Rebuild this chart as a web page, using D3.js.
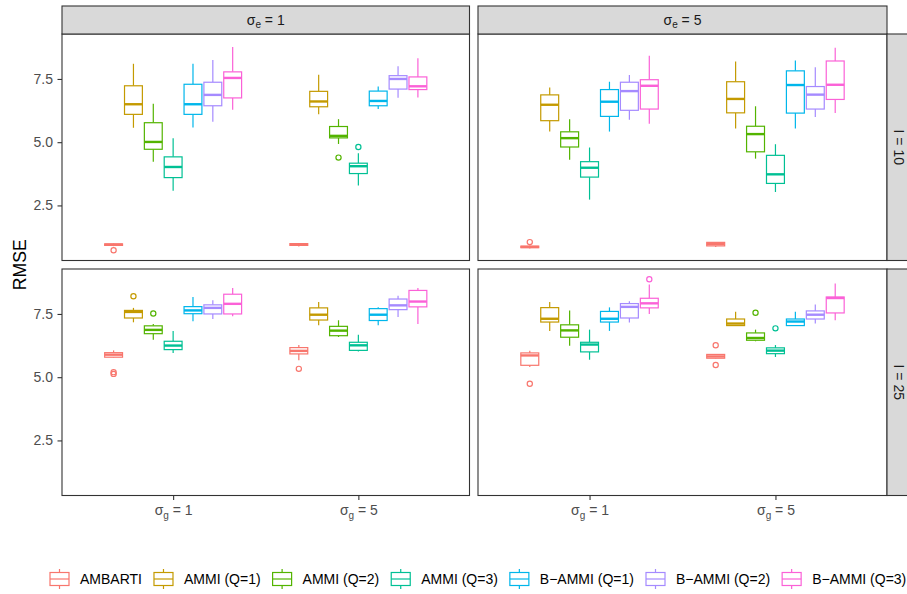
<!DOCTYPE html>
<html>
<head>
<meta charset="UTF-8" />
<style>
  body, html { margin: 0; padding: 0; background: #fff; overflow: hidden; }
  svg { display: block; font-family: "Liberation Sans", Arial, sans-serif; }
</style>
</head>
<body>
<svg id="chart"></svg>
<script src="https://cdn.jsdelivr.net/npm/d3@7"></script>
<script>
const methods = ["AMBARTI", "AMMI (Q=1)", "AMMI (Q=2)", "AMMI (Q=3)", "B\u2212AMMI (Q=1)", "B\u2212AMMI (Q=2)", "B\u2212AMMI (Q=3)"];
const methodColors = ["#F8766D", "#C49A00", "#53B400", "#00C094", "#00B6EB", "#A58AFF", "#FB61D7"];
const sigmaG = ["1", "5"];
const sigmaE = ["1", "5"];
const sizeI = ["10", "25"];
const yTicks = [2.5, 5.0, 7.5];

// rows: [lower whisker, q1, median, q3, upper whisker, outliers]
// first 7 rows σg = 1, next 7 rows σg = 5, methods in legend order
const statsE1I10 = [
  [0.89, 0.92, 0.95, 0.98, 1.00, [0.73]],
  [5.57, 6.10, 6.50, 7.23, 8.10, []],
  [4.23, 4.72, 5.01, 5.77, 6.52, []],
  [3.08, 3.60, 4.02, 4.42, 5.16, []],
  [5.58, 6.10, 6.50, 7.29, 8.10, []],
  [5.81, 6.44, 6.87, 7.37, 8.25, []],
  [6.28, 6.75, 7.54, 7.78, 8.76, []],
  [0.88, 0.92, 0.96, 0.99, 1.01, []],
  [6.10, 6.40, 6.61, 7.01, 7.67, []],
  [4.93, 5.17, 5.25, 5.62, 5.91, [4.39]],
  [3.29, 3.76, 4.05, 4.17, 4.56, [4.81]],
  [6.31, 6.44, 6.63, 7.02, 7.20, []],
  [6.76, 7.10, 7.50, 7.63, 8.00, []],
  [6.77, 7.08, 7.21, 7.58, 8.32, []]
];
const statsE5I10 = [
  [0.80, 0.83, 0.86, 0.89, 0.92, [1.05]],
  [5.42, 5.85, 6.48, 6.87, 7.16, []],
  [4.31, 4.81, 5.16, 5.41, 5.91, []],
  [2.73, 3.62, 3.99, 4.23, 4.79, []],
  [5.42, 6.02, 6.60, 7.08, 7.39, []],
  [5.89, 6.26, 7.02, 7.37, 7.66, []],
  [5.73, 6.31, 7.23, 7.47, 8.42, []],
  [0.86, 0.90, 0.97, 1.04, 1.05, []],
  [5.54, 6.16, 6.71, 7.39, 8.19, []],
  [4.35, 4.62, 5.32, 5.63, 6.42, []],
  [3.03, 3.37, 3.73, 4.48, 4.92, []],
  [5.54, 6.15, 7.26, 7.82, 8.23, []],
  [6.00, 6.31, 6.88, 7.20, 7.96, []],
  [6.15, 6.69, 7.27, 8.21, 8.73, []]
];
const statsE1I25 = [
  [5.77, 5.79, 5.89, 5.97, 6.06, [5.13, 5.20]],
  [7.17, 7.34, 7.58, 7.64, 7.74, [8.20]],
  [6.48, 6.72, 6.87, 7.03, 7.10, [7.52]],
  [5.96, 6.09, 6.25, 6.42, 6.83, []],
  [7.21, 7.51, 7.64, 7.79, 8.17, []],
  [7.30, 7.50, 7.74, 7.86, 8.04, []],
  [7.41, 7.50, 7.90, 8.28, 8.53, []],
  [5.67, 5.92, 6.04, 6.17, 6.27, [5.33]],
  [7.05, 7.26, 7.47, 7.74, 7.97, []],
  [6.59, 6.64, 6.84, 7.01, 7.25, []],
  [6.02, 6.06, 6.26, 6.38, 6.68, []],
  [7.05, 7.24, 7.47, 7.71, 7.76, []],
  [7.38, 7.67, 7.84, 8.09, 8.22, []],
  [7.10, 7.78, 7.99, 8.43, 8.53, []]
];
const statsE5I25 = [
  [5.40, 5.47, 5.86, 5.96, 6.05, [4.74]],
  [6.83, 7.18, 7.31, 7.75, 7.97, []],
  [6.24, 6.58, 6.85, 7.07, 7.64, []],
  [5.69, 6.00, 6.29, 6.38, 6.88, []],
  [6.83, 7.18, 7.31, 7.60, 7.76, []],
  [7.16, 7.34, 7.78, 7.91, 8.00, []],
  [7.50, 7.74, 7.92, 8.12, 8.66, [8.87]],
  [5.73, 5.75, 5.82, 5.90, 5.92, [5.48, 6.26]],
  [7.04, 7.04, 7.12, 7.30, 7.59, []],
  [6.42, 6.46, 6.55, 6.75, 6.88, [7.55]],
  [5.80, 5.93, 6.05, 6.16, 6.27, [6.93]],
  [7.04, 7.04, 7.20, 7.30, 7.59, []],
  [7.12, 7.30, 7.47, 7.62, 7.87, []],
  [7.25, 7.54, 8.13, 8.17, 8.70, []]
];

const width = 907, height = 594;
const colX = [[62, 469.5], [478, 887]];
const rowY = [[34, 260.5], [269, 495.5]];
const stripTop = 6, stripRight = 913;
const lineW = 1.2, border = "#333333";

const panels = [
  { row: 0, col: 0, stats: statsE1I10 },
  { row: 0, col: 1, stats: statsE5I10 },
  { row: 1, col: 0, stats: statsE1I25 },
  { row: 1, col: 1, stats: statsE5I25 }
];

const svg = d3.select("#chart").attr("width", width).attr("height", height);

// shared y domain with ggplot style 5% expansion
const allVals = panels.flatMap(p => p.stats.flatMap(s => [s[0], s[4], ...s[5]]));
const [yMin, yMax] = d3.extent(allVals);
const pad = (yMax - yMin) * 0.05;
const yDomain = [yMin - pad, yMax + pad];

panels.forEach(p => {
  const [x0, x1] = colX[p.col];
  const [y0, y1] = rowY[p.row];
  const x = d3.scalePoint().domain(sigmaG).range([x0, x1]).padding(0.6);
  const y = d3.scaleLinear().domain(yDomain).range([y1, y0]);
  const slot = x.step() * 0.75 / methods.length;
  const bw = slot * 0.9;

  const g = svg.append("g");
  g.append("rect").attr("x", x0).attr("y", y0).attr("width", x1 - x0).attr("height", y1 - y0)
    .attr("fill", "#fff");

  p.stats.forEach((s, i) => {
    const gi = Math.floor(i / methods.length), m = i % methods.length;
    const cx = x(sigmaG[gi]) + (m - (methods.length - 1) / 2) * slot;
    const col = methodColors[m];
    const b = g.append("g").attr("stroke", col).attr("stroke-width", lineW);
    b.append("line").attr("x1", cx).attr("x2", cx).attr("y1", y(s[4])).attr("y2", y(s[3]));
    b.append("line").attr("x1", cx).attr("x2", cx).attr("y1", y(s[1])).attr("y2", y(s[0]));
    b.append("rect").attr("x", cx - bw / 2).attr("y", y(s[3])).attr("width", bw)
      .attr("height", y(s[1]) - y(s[3])).attr("fill", "#fff");
    b.append("line").attr("x1", cx - bw / 2).attr("x2", cx + bw / 2)
      .attr("y1", y(s[2])).attr("y2", y(s[2])).attr("stroke-width", lineW * 2);
    b.selectAll("circle").data(s[5]).join("circle")
      .attr("cx", cx).attr("cy", d => y(d)).attr("r", 2.6).attr("fill", "none");
  });

  g.append("rect").attr("x", x0).attr("y", y0).attr("width", x1 - x0).attr("height", y1 - y0)
    .attr("fill", "none").attr("stroke", border).attr("stroke-width", 1.1);

  // y axis on left column
  if (p.col === 0) {
    const ax = svg.append("g").attr("transform", `translate(${x0},0)`)
      .call(d3.axisLeft(y).tickValues(yTicks).tickFormat(d3.format(".1f")).tickSize(4.5).tickSizeOuter(0));
    ax.select(".domain").remove();
    ax.selectAll(".tick line").attr("stroke", border).attr("stroke-width", 1.1);
    ax.selectAll(".tick text").attr("fill", "#4D4D4D").attr("font-size", 14)
      .attr("font-family", "'Liberation Sans', Arial, sans-serif").attr("x", -9);
  }
  // x axis on bottom row
  if (p.row === 1) {
    const ax = svg.append("g").attr("transform", `translate(0,${y1})`)
      .call(d3.axisBottom(x).tickSize(4.5).tickSizeOuter(0).tickFormat(""));
    ax.select(".domain").remove();
    ax.selectAll(".tick line").attr("stroke", border).attr("stroke-width", 1.1);
    ax.selectAll(".tick").each(function (d) {
      const t = d3.select(this).append("text").attr("y", 19).attr("text-anchor", "middle")
        .attr("fill", "#4D4D4D").attr("font-size", 14)
        .attr("font-family", "'Liberation Sans', Arial, sans-serif");
      t.append("tspan").text("\u03C3");
      t.append("tspan").text("g").attr("font-size", 10).attr("dy", 4);
      t.append("tspan").text(" = " + d).attr("dy", -4);
    });
  }
  // top strips
  if (p.row === 0) {
    svg.append("rect").attr("x", x0).attr("y", stripTop).attr("width", x1 - x0).attr("height", y0 - stripTop)
      .attr("fill", "#D9D9D9").attr("stroke", border).attr("stroke-width", 1.1);
    const t = svg.append("text").attr("x", (x0 + x1) / 2).attr("y", (stripTop + y0) / 2 + 5)
      .attr("text-anchor", "middle").attr("font-size", 14).attr("fill", "#1A1A1A");
    t.append("tspan").text("\u03C3");
    t.append("tspan").text("e").attr("font-size", 10).attr("dy", 3);
    t.append("tspan").text(" = " + sigmaE[p.col]).attr("dy", -3);
  }
  // right strips
  if (p.col === 1) {
    svg.append("rect").attr("x", x1).attr("y", y0).attr("width", stripRight - x1).attr("height", y1 - y0)
      .attr("fill", "#D9D9D9").attr("stroke", border).attr("stroke-width", 1.1);
    svg.append("text").attr("transform", `translate(${x1 + 12},${(y0 + y1) / 2}) rotate(90)`)
      .attr("text-anchor", "middle").attr("dy", "0.35em").attr("font-size", 14).attr("fill", "#1A1A1A")
      .text("I = " + sizeI[p.row]);
  }
});

// y title
svg.append("text").attr("transform", `translate(20,${(rowY[0][0] + rowY[1][1]) / 2}) rotate(-90)`)
  .attr("text-anchor", "middle").attr("dy", "0.35em").attr("font-size", 17.6).attr("fill", "#000")
  .text("RMSE");

// legend
const legY = 579;
let lx = 50;
methods.forEach((name, i) => {
  const k = svg.append("g").attr("stroke", methodColors[i]).attr("stroke-width", lineW);
  const kc = lx + 9.5;
  k.append("line").attr("x1", kc).attr("x2", kc).attr("y1", legY - 10).attr("y2", legY + 10);
  k.append("rect").attr("x", lx).attr("y", legY - 6.5).attr("width", 19).attr("height", 13).attr("fill", "#fff");
  k.append("line").attr("x1", lx).attr("x2", lx + 19).attr("y1", legY).attr("y2", legY);
  const t = svg.append("text").attr("x", lx + 30).attr("y", legY).attr("dy", "0.35em")
    .attr("font-size", 14).attr("fill", "#000").text(name);
  lx += 30 + t.node().getComputedTextLength() + 12;
});
</script>
</body>
</html>
